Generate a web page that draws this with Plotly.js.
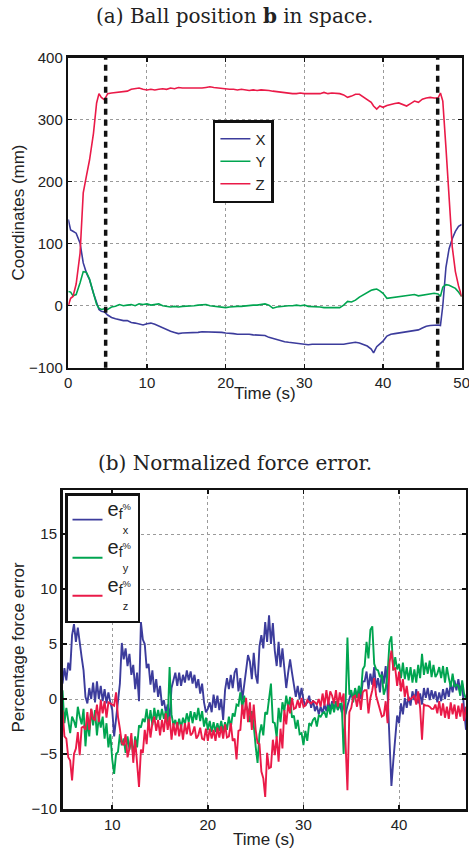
<!DOCTYPE html>
<html>
<head>
<meta charset="utf-8">
<script src="https://cdn.plot.ly/plotly-3.0.1.min.js"></script>
<style>html,body{margin:0;padding:0;background:#fff;}#chart{width:469px;height:857px;}</style>
</head>
<body>
<div id="chart"></div>
<script>
// ---------- (a) Ball position in space ----------
const timeA = [0, 0.3, 0.6, 1.0, 1.5, 1.9, 2.3, 2.7, 3.2, 3.6, 3.9, 4.2, 4.6,
  5.0, 5.5, 6.0, 6.5, 7.0, 7.5, 8.0, 8.5, 9.0, 9.5, 10.0, 10.5, 11.0, 11.5, 12.0, 12.5,
  13.0, 13.5, 14.0, 14.5, 15.0, 15.5, 16.0, 16.5, 17.0, 17.5, 18.0, 18.5, 19.0, 19.5,
  20.0, 20.5, 21.0, 21.5, 22.0, 22.5, 23.0, 23.5, 24.0, 24.5, 25.0, 25.5, 26.0, 26.5,
  27.0, 27.5, 28.0, 28.5, 29.0, 29.5, 30.0, 30.5, 31.0, 31.5, 32.0, 32.5, 33.0, 33.5,
  34.0, 34.5, 35.0, 35.5, 36.0, 36.5, 37.0, 37.5, 38.0, 38.5, 38.8, 39.2, 39.6, 40.0,
  40.5, 41.0, 41.5, 42.0, 42.5, 43.0, 43.5, 44.0, 44.5, 45.0, 45.5, 46.0, 46.5, 47.0,
  47.3, 47.6, 48.0, 48.4, 48.8, 49.2, 49.6, 50.0];
const posX = [139, 122, 120, 117, 101, 69, 53, 42, 20, 4, -6, -9, -10,
  -15, -19, -21, -23, -24, -24, -27, -28, -30, -31, -29, -28, -30, -33, -36, -39,
  -41, -43, -45, -44, -44, -44, -43, -43, -42, -42, -42, -43, -42, -43,
  -44, -44, -45, -46, -46, -45, -46, -47, -47, -47, -48, -51, -53, -55,
  -56, -58, -59, -60, -61, -61, -62, -63, -62, -62, -63, -62, -62, -63,
  -63, -63, -62, -61, -60, -59, -60, -63, -65, -70, -76, -66, -62, -57,
  -49, -46, -45, -44, -43, -43, -41, -40, -39, -36, -33, -32, -31, -31,
  -32, 0, 62, 92, 108, 120, 128, 131];
const posY = [23, 22, 16, 18, 37, 55, 54, 43, 20, 2, -4, -6, -5,
  -6, -2, -1, 2, 0, 1, 2, 0, 3, 2, 3, 1, 2, 3, 0, -1,
  -2, -1, -2, -1, -1, 0, 0, 1, 1, 2, 0, -1, -1, -2,
  -3, -2, -1, -1, -1, 0, 0, 1, 1, 2, 3, 1, -4, -2,
  -1, 0, 0, 0, 1, 0, 1, -1, -1, -2, -2, -3, -3, -4,
  -4, -3, 1, 7, 6, 9, 14, 18, 21, 25, 26, 27, 24, 20,
  12, 13, 14, 15, 15, 16, 17, 18, 16, 17, 18, 20, 20, 19,
  15, 30, 34, 33, 31, 28, 22, 15];
const posZ = [0, 12, 15, 35, 85, 182, 209, 235, 278, 327, 342, 336, 332,
  342, 343, 344, 344, 346, 346, 349, 350, 351, 349, 348, 349, 348, 349, 350, 349,
  351, 350, 352, 351, 351, 350, 351, 350, 351, 352, 353, 352, 351, 350,
  350, 349, 349, 348, 349, 348, 347, 348, 347, 348, 348, 347, 346, 345,
  345, 344, 343, 342, 342, 343, 342, 342, 342, 343, 342, 344, 342, 343,
  343, 342, 340, 336, 338, 341, 341, 337, 333, 328, 322, 317, 322, 320,
  323, 325, 326, 327, 324, 322, 326, 330, 328, 333, 335, 336, 335, 335,
  343, 330, 255, 165, 95, 55, 32, 15];
const phaseTimes = [4.75, 46.95];
const namesA = ['X', 'Y', 'Z'];

// ---------- (b) Normalized force error (samples every 0.2 s from 4.8 s) ----------
const errStart = 4.8, errStep = 0.2;
const errX = [1.4,
  2.8, 1.7, 3.3, 2.6, 5.8,
  6.8, 5.2, 6.5, 4.9, 3.8,
  2.6, 0.2, -0.4, 1.0, 0.0,
  1.5, -0.3, 1.6, 0.0, 1.2,
  -0.2, 0.9, -0.4, 0.6, -0.3,
  -1.0, -3.4, -1.6, -0.2, 1.4,
  5.1, 3.6, 4.6, 3.0, 4.1,
  2.2, 3.1, 0.9, 2.4, -0.2,
  7.0, 5.4, 5.0, 2.8, 3.2,
  1.3, 2.6, 0.6, 1.8, 0.2,
  1.2, -0.6, -0.1, -1.2, -0.5,
  -1.8, 1.0, 1.6, 2.4, 1.2,
  2.4, 1.2, 2.2, 1.5, 2.6,
  1.7, 2.5, 1.4, 2.2, 1.0,
  1.8, 0.5, 1.4, -0.3, -1.2,
  -0.9, -0.3, -1.2, 0.4, -0.8,
  0.3, -1.0, 0.0, -1.9, 0.8,
  1.9, 0.9, 2.2, 1.0, 2.4,
  2.8, 0.7, 1.9, -0.1, 1.5,
  2.6, 4.0, 3.4, 1.8, 4.2,
  2.2, 1.4, 4.8, 5.8, 4.6,
  7.0, 5.2, 7.6, 5.0, 6.9,
  4.4, 3.0, 5.2, 2.9, 4.6,
  2.4, 1.0, 2.4, 3.6, 2.4,
  1.4, 0.2, 1.2, 0.0, 1.0,
  -0.1, -0.6, -0.3, 0.3, -0.8,
  -0.1, -1.1, -0.6, -1.4, -0.7,
  -1.3, -0.5, -1.1, -0.2, -0.9,
  -0.2, -0.9, -0.3, -1.0, -0.4,
  -1.2, -0.5, -1.4, -0.6, -0.1,
  0.6, -0.1, 0.9, 0.1, 0.8,
  0.0, 1.6, 1.6, 2.5, 0.9,
  2.3, 1.3, 2.9, 1.0, 1.9,
  0.6, 2.5, 1.4, 3.0, 0.5,
  -4.3, -7.9, -5.6, -3.3, -1.5,
  -2.2, -0.4, -1.4, 0.1, -0.8,
  0.2, -0.6, 0.7, -0.1, 0.9,
  -0.4, 0.5, -0.5, 1.0, 0.1,
  1.0, -0.1, 0.8, 0.0, 0.7,
  -0.3, 0.6, -0.2, 0.9, 0.0,
  1.0, 0.2, 1.4, 0.6, 1.7,
  0.8, 1.8, 0.7, 1.4, -1.0,
  -2.8];
const errY = [0.8,
  -2.2, -0.8, -1.8, -3.1, -1.6,
  -2.0, -2.6, -0.7, -1.6, -2.3,
  -0.9, -4.3, -2.0, -3.4, -0.9,
  -2.4, -1.0, -3.3, -1.6, -2.6,
  -1.6, -3.6, -2.2, -4.4, -3.2,
  -5.5, -6.8, -5.0, -4.8, -3.2,
  -4.2, -3.6, -4.9, -3.4, -4.6,
  -3.6, -5.2, -3.4, -4.4, -2.4,
  -2.6, -1.8, -2.1, -0.9, -2.4,
  -1.0, -2.4, -0.8, -1.9, -1.0,
  -1.9, -0.9, -1.8, -1.1, -2.1,
  2.9, -1.4, -2.4, -1.9, -2.6,
  -1.8, -2.6, -1.7, -2.3, -1.3,
  -2.1, -1.1, -2.2, -1.2, -1.9,
  -0.8, -2.0, -1.1, -2.5, -1.7,
  -2.8, -2.0, -3.0, -2.1, -3.0,
  -2.2, -2.9, -2.0, -3.0, -2.1,
  -2.8, -1.6, -2.6, -1.3, -1.6,
  -0.5, -0.6, 0.6, -0.8, 0.3,
  -0.6, -1.0, -2.1, -1.1, -2.4,
  -4.3, -5.8, -3.2, -2.3, -3.3,
  -1.2, -1.4, 0.1, 1.4, -2.1,
  -2.2, -3.5, -0.8, -2.1, -0.3,
  -1.1, 0.3, -0.8, 0.2, -1.7,
  -1.5, -2.7, -1.9, -3.2, -3.1,
  -4.2, -2.9, -3.8, -2.2, -2.4,
  -1.9, -1.7, -2.5, -1.5, -1.6,
  -1.3, -1.2, -1.7, -0.6, -1.4,
  -0.4, -1.2, -0.2, -1.0, -0.5,
  -0.4, -5.0, -0.7, 5.6, 0.4,
  0.8, -0.3, 1.0, 0.1, 1.2,
  0.4, 2.7, 3.0, 5.2, 3.7,
  6.3, 6.6, 3.2, 2.7, 2.6,
  2.0, 2.2, 0.4, 1.0, 2.3,
  5.2, 5.7, 2.6, 3.8, 2.7,
  3.2, 1.9, 3.3, 1.8, 2.9,
  1.7, 2.9, 1.5, 2.7, 1.5,
  3.1, 1.9, 4.1, 2.2, 3.3,
  2.3, 3.5, 2.0, 3.1, 2.0,
  2.3, 2.9, 1.9, 3.0, 1.5,
  2.9, 1.9, 1.1, 2.3, 1.1,
  1.3, 1.2, 0.3, 1.7, 0.5,
  0.0];
const errZ = [-1.0,
  -3.4, -3.6, -5.3, -5.6, -7.4,
  -5.0, -4.5, -3.0, -5.1, -2.6,
  -2.5, -2.8, -1.2, -2.8, -0.9,
  -1.8, -1.9, -0.5, -2.1, -0.1,
  -1.3, -0.2, -1.7, -0.3, -0.4,
  -0.5, -0.6, 0.6, -1.6, -2.7,
  -4.0, -4.2, -3.2, -5.3, -4.5,
  -3.1, -5.8, -3.7, -5.7, -8.0,
  -4.6, -4.9, -2.8, -4.1, -1.8,
  -3.5, -2.2, -1.6, -2.9, -1.9,
  -3.3, -1.9, -3.0, -1.3, -2.8,
  -1.6, -3.7, -2.2, -3.3, -2.1,
  -3.4, -2.3, -3.7, -2.2, -3.2,
  -2.1, -3.3, -3.1, -2.5, -3.6,
  -3.3, -2.6, -3.6, -3.7, -2.7,
  -3.8, -2.7, -3.6, -2.8, -3.8,
  -2.6, -3.5, -2.5, -3.6, -2.3,
  -3.5, -3.4, -2.2, -3.8, -3.6,
  -5.5, -2.9, -2.8, -0.5, -1.8,
  0.1, -2.1, -0.3, -2.8, -0.5,
  -2.8, -4.0, -4.1, -6.6, -7.2,
  -8.9, -4.9, -6.3, -6.2, -3.7,
  -5.1, -3.4, -5.7, -2.7, -4.5,
  -1.0, -2.3, -0.5, -1.3, 0.1,
  -0.9, -0.8, -0.1, -0.8, 0.1,
  -0.7, -0.6, -0.1, -0.3, -0.4,
  -0.2, -0.3, -0.5, 0.0, -0.7,
  0.5, -0.6, 0.8, -0.5, 0.7,
  0.3, -0.4, 0.8, -0.7, 0.6,
  -0.3, 0.5, -3.8, -8.3, -1.2,
  -0.8, 0.2, 0.3, -0.7, 0.5,
  -1.0, 0.6, 0.8, 0.8, -1.3,
  0.1, 0.8, 1.9, 0.3, -0.3,
  -1.0, -1.6, -1.5, -0.2, -2.2,
  3.3, 4.4, 2.7, 2.8, 1.2,
  2.5, 0.7, 1.8, 0.2, 1.2,
  -0.1, 0.0, 0.2, 0.3, -0.5,
  0.7, -0.8, -3.7, -0.5, -0.6,
  -0.6, -0.7, -0.9, -0.9, -0.5,
  -1.3, -0.2, -1.5, -0.4, -1.7,
  -0.7, -1.8, -0.3, -1.4, -0.5,
  -1.8, -0.6, -1.6, -0.4, -2.0,
  -0.7];
const subB = ['x', 'y', 'z'];
const namesB = subB.map(s =>
  '<span style="font-size:20px">e</span><sub><span style="font-size:14px">f</span></sub><sup>%</sup>' +
  '<br><span style="font-size:11px">&nbsp;&nbsp;&nbsp;&nbsp;&nbsp;' + s + '</span>');

const colors = ['#3c3c9c', '#00a550', '#ea1a48'];
const sans = 'Liberation Sans, Arial, sans-serif';
const serif = 'DejaVu Serif, serif';

const seriesA = [posX, posY, posZ];
const seriesB = [errX, errY, errZ];
const traces = [];
seriesA.forEach((s, i) => traces.push({
  type: 'scatter', mode: 'lines', x: timeA, y: s, name: namesA[i],
  xaxis: 'x', yaxis: 'y', legend: 'legend',
  line: {color: colors[i], width: 1.6}
}));
seriesB.forEach((s, i) => traces.push({
  type: 'scatter', mode: 'lines', x0: errStart, dx: errStep, y: s, name: namesB[i],
  xaxis: 'x2', yaxis: 'y2', legend: 'legend2',
  line: {color: colors[i], width: 1.9}
}));

const axisCommon = {
  showline: true, linecolor: '#111', linewidth: 2.5, mirror: 'ticks',
  ticks: 'inside', ticklen: 4, tickwidth: 1.5, tickcolor: '#111',
  showgrid: true, gridcolor: '#9a9a9a', griddash: 'dot', gridwidth: 1,
  zeroline: false, tickfont: {family: sans, size: 15, color: '#222'},
  ticklabeloverflow: 'allow', fixedrange: true
};

const shapes = phaseTimes.map(t => ({
  type: 'line', xref: 'x', yref: 'y domain', x0: t, x1: t, y0: 0, y1: 1,
  layer: 'above', line: {color: '#111', width: 3.5, dash: '6px,5px'}
}));

const annFont = {family: sans, size: 17, color: '#222'};
const layout = {
  width: 469, height: 857,
  margin: {l: 0, r: 0, t: 0, b: 0},
  paper_bgcolor: '#fff', plot_bgcolor: '#fff',
  showlegend: true,
  xaxis: Object.assign({}, axisCommon, {domain: [0.1456, 0.9844], range: [0, 50], tickvals: [0, 10, 20, 30, 40, 50], anchor: 'y'}),
  yaxis: Object.assign({}, axisCommon, {domain: [0.5709, 0.9327], range: [-100, 400], tickvals: [-100, 0, 100, 200, 300, 400], anchor: 'x'}),
  xaxis2: Object.assign({}, axisCommon, {domain: [0.1333, 0.9936], range: [4.8, 47], tickvals: [10, 20, 30, 40], anchor: 'y2'}),
  yaxis2: Object.assign({}, axisCommon, {domain: [0.0560, 0.4282], range: [-10, 19], tickvals: [-10, -5, 0, 5, 10, 15], anchor: 'x2'}),
  legend: {x: 0.454, y: 1 - 120/857, xanchor: 'left', yanchor: 'top', bgcolor: '#fff',
    bordercolor: '#111', borderwidth: 2.5, font: {family: sans, size: 15, color: '#222'}},
  legend2: {x: 0.1386, y: 0.4247, xanchor: 'left', yanchor: 'top', bgcolor: '#fff',
    bordercolor: '#111', borderwidth: 2.5, font: {family: sans, size: 13.5, color: '#222'}},
  shapes: shapes,
  annotations: [
    {xref: 'paper', yref: 'paper', x: 0.5, y: 1 - 16/857, xanchor: 'center', yanchor: 'middle',
     text: '(a) Ball position <b>b</b> in space.', showarrow: false, font: {family: serif, size: 20, color: '#222'}},
    {xref: 'paper', yref: 'paper', x: 0.5, y: 1 - 463/857, xanchor: 'center', yanchor: 'middle',
     text: '(b) Normalized force error.', showarrow: false, font: {family: serif, size: 20, color: '#222'}},
    {xref: 'paper', yref: 'paper', x: 265/469, y: 1 - 393/857, xanchor: 'center', yanchor: 'middle',
     text: 'Time (s)', showarrow: false, font: annFont},
    {xref: 'paper', yref: 'paper', x: 264/469, y: 1 - 839/857, xanchor: 'center', yanchor: 'middle',
     text: 'Time (s)', showarrow: false, font: annFont},
    {xref: 'paper', yref: 'paper', x: 17.5/469, y: 1 - 213/857, xanchor: 'center', yanchor: 'middle', textangle: -90,
     text: 'Coordinates (mm)', showarrow: false, font: annFont},
    {xref: 'paper', yref: 'paper', x: 17.5/469, y: 1 - 648/857, xanchor: 'center', yanchor: 'middle', textangle: -90,
     text: 'Percentage force error', showarrow: false, font: annFont}
  ]
};

Plotly.newPlot('chart', traces, layout, {staticPlot: true, displayModeBar: false});
</script>
</body>
</html>
